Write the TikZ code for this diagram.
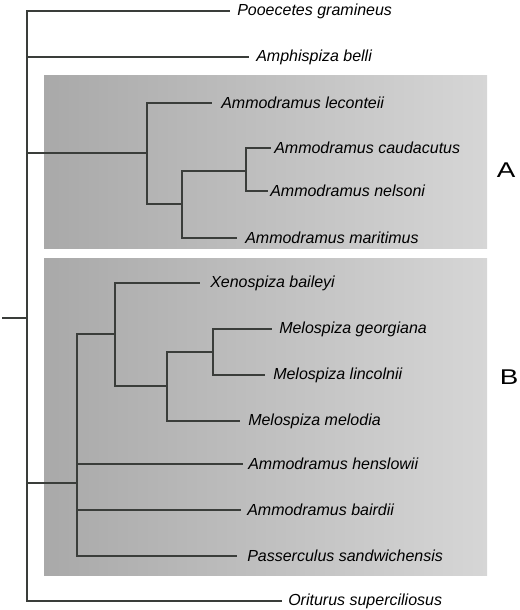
\documentclass[tikz,border=0pt]{standalone}
\usepackage{fontspec}
\setmainfont{Liberation Sans}
\definecolor{boxleft}{HTML}{A9A9A9}
\definecolor{boxright}{HTML}{D6D6D6}
\definecolor{branch}{HTML}{3A3D3A}
\begin{document}
\begin{tikzpicture}[x=0.75pt,y=-0.75pt,
  leaf/.style={anchor=west, inner ysep=0pt, font=\fontsize{12pt}{14pt}\selectfont\itshape},
  cladelabel/.style={font=\fontsize{16pt}{18pt}\selectfont, xscale=1.3, transform shape},
  branchline/.style={draw=branch, line width=0.9pt},
  cladebox/.style={left color=boxleft, right color=boxright}]
\useasboundingbox (0,0) rectangle (520,610);
% clade boxes
\shade[cladebox] (44,76) rectangle (487,248);
\shade[cladebox] (44,258) rectangle (487,575);
% internal coordinates
\coordinate (stub) at (2,318);
\coordinate (root) at (27,318);
\coordinate (nA) at (147,153);
\coordinate (nA2) at (182,204);
\coordinate (nA3) at (246,171);
\coordinate (nB) at (77,483);
\coordinate (nB1) at (115,334);
\coordinate (nB2) at (167,386);
\coordinate (nB3) at (213,352);
% leaves
\node[leaf, inner xsep=5.25pt] (pg) at (230,11) {Pooecetes gramineus};
\node[leaf, inner xsep=5.25pt] (ab) at (249,57) {Amphispiza belli};
\node[leaf, inner xsep=6.75pt] (lec) at (212,103) {Ammodramus leconteii};
\node[leaf, inner xsep=2.25pt] (cau) at (271,148) {Ammodramus caudacutus};
\node[leaf, inner xsep=1.5pt] (nel) at (268,191) {Ammodramus nelsoni};
\node[leaf, inner xsep=6pt] (mar) at (237,238) {Ammodramus maritimus};
\node[leaf, inner xsep=7.5pt] (xen) at (200,283) {Xenospiza baileyi};
\node[leaf, inner xsep=5.25pt] (geo) at (272,329) {Melospiza georgiana};
\node[leaf, inner xsep=6pt] (lin) at (265,375) {Melospiza lincolnii};
\node[leaf, inner xsep=6pt] (mel) at (240,421) {Melospiza melodia};
\node[leaf, inner xsep=3.75pt] (hen) at (243,464) {Ammodramus henslowii};
\node[leaf, inner xsep=4.5pt] (bai) at (241,510) {Ammodramus bairdii};
\node[leaf, inner xsep=7.5pt] (pas) at (237,556) {Passerculus sandwichensis};
\node[leaf, inner xsep=4.5pt] (os) at (282,601) {Oriturus superciliosus};
% clade letters
\node[cladelabel] (labA) at (506,170) {A};
\node[cladelabel] (labB) at (509,377) {B};
% branches
\draw[branchline] (stub) -- (root);
\draw[branchline] (root) |- (pg.west);
\draw[branchline] (root) |- (ab.west);
\draw[branchline] (root) |- (os.west);
\draw[branchline] (root) |- (nA);
\draw[branchline] (nA) |- (lec.west);
\draw[branchline] (nA) |- (nA2);
\draw[branchline] (nA2) |- (mar.west);
\draw[branchline] (nA2) |- (nA3);
\draw[branchline] (nA3) |- (cau.west);
\draw[branchline] (nA3) |- (nel.west);
\draw[branchline] (root) |- (nB);
\draw[branchline] (nB) |- (nB1);
\draw[branchline] (nB) |- (hen.west);
\draw[branchline] (nB) |- (bai.west);
\draw[branchline] (nB) |- (pas.west);
\draw[branchline] (nB1) |- (xen.west);
\draw[branchline] (nB1) |- (nB2);
\draw[branchline] (nB2) |- (mel.west);
\draw[branchline] (nB2) |- (nB3);
\draw[branchline] (nB3) |- (geo.west);
\draw[branchline] (nB3) |- (lin.west);
\end{tikzpicture}
\end{document}
